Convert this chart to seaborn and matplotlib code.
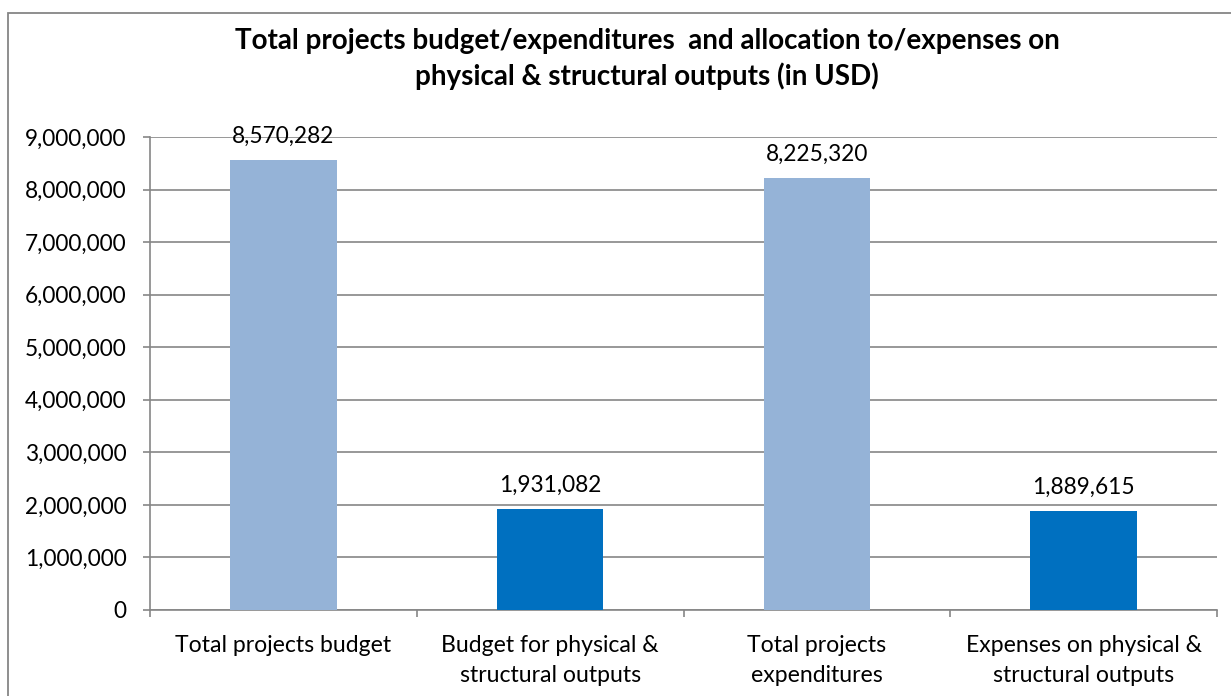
import matplotlib
matplotlib.use("Agg")
import matplotlib.pyplot as plt
import matplotlib.patches as mpatches
from matplotlib.ticker import FuncFormatter, MultipleLocator, FixedLocator
import seaborn as sns
import pandas as pd

categories = [
    "Total projects budget",
    "Budget for physical &\nstructural outputs",
    "Total projects\nexpenditures",
    "Expenses on physical &\nstructural outputs",
]
values = [8570282, 1931082, 8225320, 1889615]
bar_colors = ["#95B3D7", "#0070C0", "#95B3D7", "#0070C0"]
title_lines = [
    "Total projects budget/expenditures  and allocation to/expenses on",
    "physical & structural outputs (in USD)",
]

sns.set_theme(style="white")
plt.rcParams["font.family"] = ["Lato", "DejaVu Sans"]

grey = "#868686"
W, H = 1231, 696
df = pd.DataFrame({"category": categories, "value": values})

fig = plt.figure(figsize=(W / 100, H / 100), dpi=100)
ax = fig.add_axes([150 / W, 1 - 610 / H, (1217 - 150) / W, (610 - 137) / H])

sns.barplot(data=df, x="category", y="value", hue="category",
            palette=bar_colors, width=0.4, legend=False, ax=ax,
            saturation=1, edgecolor="none", zorder=3)

ax.set_ylim(0, 9000000)
ax.set_xlim(-0.5, len(categories) - 0.5)
ax.yaxis.set_major_locator(MultipleLocator(1000000))
ax.yaxis.set_major_formatter(FuncFormatter(lambda v, p: f"{int(v):,}"))
ax.grid(axis="y", color=grey, linewidth=1.2, zorder=0)
ax.grid(axis="x", visible=False)
ax.set_xlabel("")
ax.set_ylabel("")

for side in ["top", "right"]:
    ax.spines[side].set_visible(False)
for side in ["left", "bottom"]:
    ax.spines[side].set_color(grey)
    ax.spines[side].set_linewidth(1.2)

ax.tick_params(axis="y", which="major", left=True, length=5, width=1.2,
               color=grey, pad=12, labelsize=16.3, labelcolor="black")
ax.tick_params(axis="x", which="major", bottom=False, length=0, pad=18,
               labelsize=16.6, labelcolor="black")
ax.xaxis.set_minor_locator(FixedLocator([i - 0.5 for i in range(len(categories) + 1)]))
ax.tick_params(axis="x", which="minor", bottom=True, length=5, width=1.2, color=grey)
for lbl in ax.get_xticklabels():
    lbl.set_linespacing(1.5)

for i, v in enumerate(values):
    ax.annotate(f"{v:,}", xy=(i, v), xytext=(0, 12), textcoords="offset points",
                ha="center", va="baseline", fontsize=16.3, color="black")

for text, base in zip(title_lines, [49, 85]):
    fig.text(647 / W, 1 - base / H, text, ha="center", va="baseline",
             fontsize=20, fontweight="bold", color="black")

border = mpatches.Rectangle((8 / W, -0.05), 1.2, 1 - 13 / H + 0.05,
                            transform=fig.transFigure, fill=False,
                            edgecolor=grey, linewidth=1.3, zorder=10)
fig.patches.append(border)

fig.savefig("out.png", dpi=100)
